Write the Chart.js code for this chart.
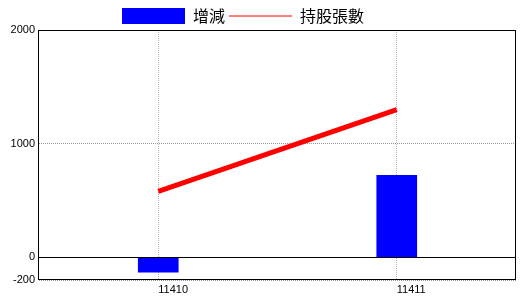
<!DOCTYPE html>
<html>
<head>
<meta charset="utf-8">
<script src="https://cdn.jsdelivr.net/npm/chart.js@4/dist/chart.umd.min.js"></script>
<style>
  body { margin: 0; background: #ffffff; }
  canvas { display: block; }
</style>
</head>
<body>
<canvas id="myChart" width="520" height="300"></canvas>
<script>
const periodos = ["11410", "11411"];
const zengjian = [-130, 720];
const chigu = [580, 1300];
const ticksY = [-200, 0, 1000, 2000];

const canvas = document.getElementById("myChart");

/* marco negro alrededor del area y la linea del cero */
const marco = {
  id: "marco",
  afterLayout(chart) {
    // mover la leyenda como en la imagen
    chart.legend.left = 118;
    chart.legend.top = 4;
  },
  afterDatasetsDraw(chart) {
    const { ctx, chartArea } = chart;
    const y0 = Math.round(chart.scales.y.getPixelForValue(0)) + 0.5;
    ctx.save();
    ctx.strokeStyle = "#000000";
    ctx.lineWidth = 1;
    ctx.beginPath();
    ctx.moveTo(chartArea.left, y0);
    ctx.lineTo(chartArea.right, y0);
    ctx.stroke();
    ctx.strokeRect(
      Math.round(chartArea.left) - 0.5,
      Math.round(chartArea.top) + 0.5,
      Math.round(chartArea.right - chartArea.left),
      Math.round(chartArea.bottom - chartArea.top) - 1
    );
    ctx.restore();
  },
};

Chart.defaults.font.family = '"Liberation Sans", sans-serif';
Chart.defaults.font.size = 11;
Chart.defaults.color = "#000000";

const config = {
  data: {
    labels: periodos,
    datasets: [
      {
        type: "bar",
        label: "增減",
        data: zengjian,
        backgroundColor: "#0000ff",
        borderWidth: 0,
        barThickness: 40,
        order: 2,
      },
      {
        type: "line",
        label: "持股張數",
        data: chigu,
        borderColor: "#ff0000",
        borderWidth: 5,
        borderCapStyle: "butt",
        pointRadius: 0,
        fill: false,
        order: 1,
      },
    ],
  },
  options: {
    responsive: false,
    animation: false,
    devicePixelRatio: 1,
    layout: { padding: { right: 4 } },
    plugins: {
      tooltip: { enabled: false },
      legend: {
        align: "start",
        maxHeight: 30,
        labels: {
          usePointStyle: true,
          pointStyleWidth: 63,
          boxHeight: 16,
          padding: 4,
          color: "#000000",
          font: { family: '"Noto Sans CJK TC", sans-serif', size: 16 },
          generateLabels: () => [
            {
              text: "增減",
              pointStyle: "rect",
              fillStyle: "#0000ff",
              strokeStyle: "#0000ff",
              lineWidth: 0,
              datasetIndex: 0,
              hidden: false,
            },
            {
              text: "持股張數",
              pointStyle: "line",
              fillStyle: "#ff0000",
              strokeStyle: "#ff0000",
              lineWidth: 1,
              datasetIndex: 1,
              hidden: false,
            },
          ],
        },
      },
    },
    scales: {
      x: {
        offset: true,
        afterFit: (scale) => {
          scale.height = 20;
        },
        grid: {
          offset: false,
          drawTicks: false,
          color: "#a8b4c0",
        },
        border: { display: false, dash: [1, 1] },
        ticks: { align: "start", padding: 3, maxRotation: 0 },
      },
      y: {
        min: -200,
        max: 2000,
        afterFit: (scale) => {
          scale.width = 39;
        },
        afterBuildTicks: (scale) => {
          scale.ticks = ticksY.map((v) => ({ value: v }));
        },
        grid: {
          drawTicks: false,
          color: (ctx) => (ctx.tick && ctx.tick.value === 0 ? "rgba(0,0,0,0)" : "#999999"),
        },
        border: { display: false, dash: [1, 1] },
        ticks: { padding: 4, callback: (v) => String(v) },
      },
    },
  },
  plugins: [marco],
};

const grafico = new Chart(canvas, config);
</script>
</body>
</html>
